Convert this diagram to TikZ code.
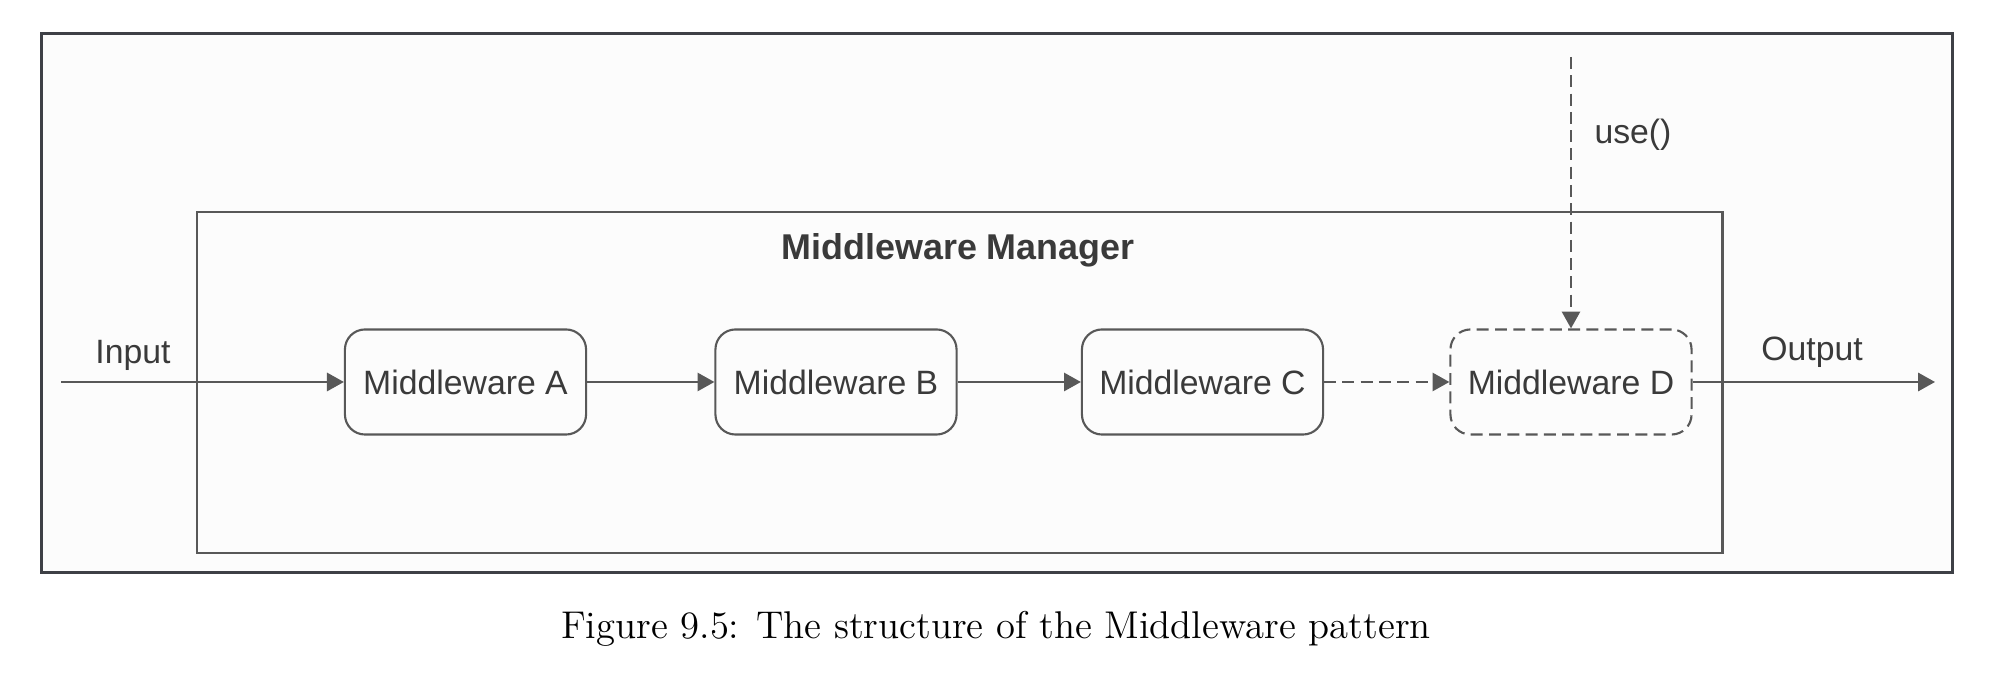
\documentclass[tikz,border=0pt]{standalone}
\usepackage{fontspec}
\usepackage{tikz}
\usetikzlibrary{arrows.meta}
\newfontfamily\diagfont{Liberation Sans}
\definecolor{framegray}{RGB}{62,64,70}
\definecolor{linegray}{RGB}{88,88,88}
\definecolor{textgray}{RGB}{58,58,58}
\definecolor{paneltint}{RGB}{252,252,252}
\begin{document}
\begin{tikzpicture}[x=0.01cm,y=-0.01cm]

%
% Styles
%
\tikzstyle{frame}    = [draw=framegray,line width=0.9pt,fill=paneltint,minimum width=19.1cm,minimum height=5.38cm]
\tikzstyle{manager}  = [draw=linegray,line width=0.6pt,minimum width=15.25cm,minimum height=3.41cm]
\tikzstyle{ware}     = [draw=linegray,line width=0.6pt,rounded corners=5.7pt,fill=paneltint,minimum width=2.41cm,minimum height=1.05cm,font=\diagfont\fontsize{9.6}{11}\selectfont,text=textgray]
\tikzstyle{lazyware} = [ware,dash pattern=on 3.4pt off 1.8pt]
\tikzstyle{tag}      = [font=\diagfont\fontsize{9.6}{11}\selectfont,text=textgray]
\tikzstyle{title}    = [font=\diagfont\bfseries\fontsize{10.2}{12}\selectfont,text=textgray]

\tikzstyle{edge}     = [-{Triangle[length=4.8pt,width=5.2pt]},draw=linegray,line width=0.6pt]
\tikzstyle{lazyedge} = [edge,dash pattern=on 3.4pt off 1.8pt]

\useasboundingbox (0,0) rectangle (1990,686);

\node[frame]    (frame)   at ( 997,303) {};
\node[manager]  (manager) at (959.5,382.5) {};
\node[title]    (title)   at ( 958,250) {Middleware Manager};

\node[ware]     (a) at ( 465.5,382) {Middleware A};
\node[ware]     (b) at ( 836  ,382) {Middleware B};
\node[ware]     (c) at (1202.5,382) {Middleware C};
\node[lazyware] (d) at (1571  ,382) {Middleware D};

\coordinate (in)   at (  61,382);
\coordinate (out)  at (1935,382);
\coordinate (hook) at (1571, 57);

\draw[edge]     (in) -- (a);
\draw[edge]     (a) -- (b);
\draw[edge]     (b) -- (c);
\draw[lazyedge] (c) -- (d);
\draw[edge]     (d) -- (out);
\draw[lazyedge] (hook) -- (d);

\node[tag] (input)  at ( 133,355) {Input};
\node[tag] (output) at (1812,352) {Output};
\node[tag] (use)    at (1633,135) {use()};

\node[font=\fontsize{11}{13}\selectfont] (caption) at (996,629) {Figure 9.5: The structure of the Middleware pattern};

\end{tikzpicture}
\end{document}
